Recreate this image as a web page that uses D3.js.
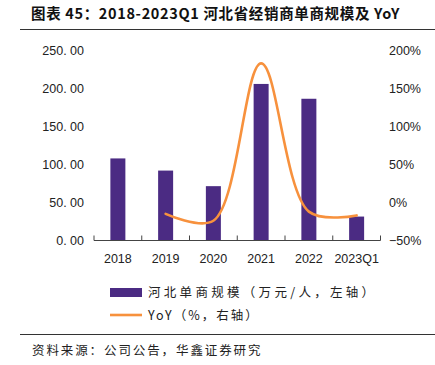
<!DOCTYPE html>
<html lang="zh">
<head>
<meta charset="utf-8">
<title>河北省经销商单商规模及 YoY</title>
<style>
  body { margin: 0; background: #fff; }
  svg text { font-family: "Liberation Sans", Arial, sans-serif; }
  .cjk { font-family: "Noto Sans CJK SC", sans-serif; }
</style>
</head>
<body>
<div id="chart"></div>
<script src="https://cdnjs.cloudflare.com/ajax/libs/d3/7.8.5/d3.min.js"></script>
<script>
// data
var categories = ["2018", "2019", "2020", "2021", "2022", "2023Q1"];
var scaleValues = [108, 92, 71.5, 206, 186.5, 31.5];   // 万元/人, left axis
var yoyValues = [null, -15, -24, 183, -12, -17];        // %, right axis
var leftTicks = [0, 50, 100, 150, 200, 250];
var rightTicks = [-50, 0, 50, 100, 150, 200];

var W = 435, H = 365;

var svg = d3.select("#chart").append("svg")
    .attr("width", W).attr("height", H);

// title + rules
svg.append("text").attr("class", "cjk")
    .attr("x", 31).attr("y", 19)
    .attr("font-size", 14.5).attr("font-weight", "bold").attr("letter-spacing", 0.65)
    .attr("fill", "#111")
    .text("图表 45：2018-2023Q1 河北省经销商单商规模及 YoY");
svg.append("line").attr("x1", 20).attr("x2", W).attr("y1", 29.5).attr("y2", 29.5)
    .attr("stroke", "#333").attr("stroke-width", 1.2);
svg.append("line").attr("x1", 20).attr("x2", W).attr("y1", 334.5).attr("y2", 334.5)
    .attr("stroke", "#333").attr("stroke-width", 1.2);
svg.append("text").attr("class", "cjk")
    .attr("x", 32).attr("y", 355)
    .attr("font-size", 12.5).attr("letter-spacing", 1.9).attr("fill", "#222")
    .text("资料来源：公司公告，华鑫证券研究");

var x0 = 94, x1 = 380.5, y0 = 240.5, y1 = 50.5;

var x = d3.scaleBand().domain(categories).range([x0, x1]).padding(0);
var yL = d3.scaleLinear().domain([0, 250]).range([y0, y1]);
var yR = d3.scaleLinear().domain([-50, 200]).range([y0, y1]);

// bars
svg.append("g").selectAll("rect")
    .data(categories)
    .enter().append("rect")
    .attr("x", function(d) { return x(d) + x.bandwidth() / 2 - 7.5; })
    .attr("width", 15)
    .attr("y", function(d, i) { return yL(scaleValues[i]); })
    .attr("height", function(d, i) { return y0 - yL(scaleValues[i]); })
    .attr("fill", "#4B2B83");

// x axis with inward ticks at category boundaries
var gx = svg.append("g");
gx.append("line").attr("x1", x0).attr("x2", x1).attr("y1", y0).attr("y2", y0)
    .attr("stroke", "#444").attr("stroke-width", 1.2);
gx.selectAll("line.tk")
    .data(categories.concat(["end"]))
    .enter().append("line").attr("class", "tk")
    .attr("x1", function(d, i) { return x0 + i * x.bandwidth(); })
    .attr("x2", function(d, i) { return x0 + i * x.bandwidth(); })
    .attr("y1", y0).attr("y2", y0 - 5)
    .attr("stroke", "#444").attr("stroke-width", 1);
gx.selectAll("text")
    .data(categories)
    .enter().append("text")
    .attr("x", function(d) { return x(d) + x.bandwidth() / 2; })
    .attr("y", 263)
    .attr("text-anchor", "middle").attr("font-size", 12.5).attr("fill", "#222")
    .text(function(d) { return d; });

// left / right tick labels (no axis line)
svg.append("g").selectAll("text")
    .data(leftTicks)
    .enter().append("text")
    .attr("x", 84).attr("y", function(d) { return yL(d) + 4.5; })
    .attr("text-anchor", "end").attr("font-size", 12.5).attr("fill", "#222")
    .text(function(d) { return d3.format(".2f")(d).replace(".", ". "); });
svg.append("g").selectAll("text")
    .data(rightTicks)
    .enter().append("text")
    .attr("x", 389).attr("y", function(d) { return yR(d) + 4.5; })
    .attr("text-anchor", "start").attr("font-size", 12.5).attr("fill", "#222")
    .text(function(d) { return (d < 0 ? "\u2212" + Math.abs(d) : d) + "%"; });

// smoothed YoY line
var pts = categories.map(function(c, i) { return [c, yoyValues[i]]; })
    .filter(function(p) { return p[1] !== null; });
var line = d3.line()
    .x(function(p) { return x(p[0]) + x.bandwidth() / 2; })
    .y(function(p) { return yR(p[1]); })
    .curve(d3.curveCatmullRom.alpha(0.5));
svg.append("path").datum(pts)
    .attr("d", line)
    .attr("fill", "none").attr("stroke", "#F7913D").attr("stroke-width", 2.6)
    .attr("stroke-linecap", "round");

// legend
var lg = svg.append("g");
lg.append("rect").attr("x", 110).attr("y", 288).attr("width", 32).attr("height", 9)
    .attr("fill", "#4B2B83");
lg.append("text").attr("class", "cjk")
    .attr("x", 148).attr("y", 297)
    .attr("font-size", 12.5).attr("letter-spacing", 3.3).attr("fill", "#222")
    .text("河北单商规模（万元/人，左轴）");
lg.append("line").attr("x1", 110).attr("x2", 142).attr("y1", 315).attr("y2", 315)
    .attr("stroke", "#F7913D").attr("stroke-width", 2.6);
lg.append("text").attr("class", "cjk")
    .attr("x", 148).attr("y", 320)
    .attr("font-size", 12.5).attr("letter-spacing", 2.0).attr("fill", "#222")
    .text("YoY（%，右轴）");
</script>
</body>
</html>
